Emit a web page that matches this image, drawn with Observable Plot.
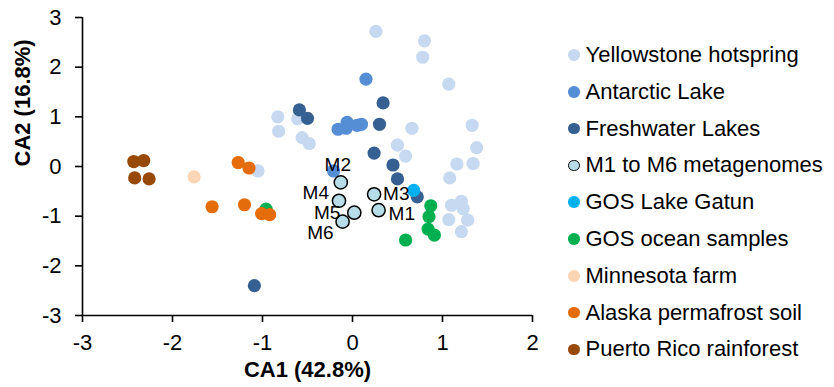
<!DOCTYPE html>
<html>
<head>
<meta charset="utf-8">
<script src="https://cdn.jsdelivr.net/npm/d3@7"></script>
<script src="https://cdn.jsdelivr.net/npm/@observablehq/plot@0.6"></script>
<style>
  html, body { margin: 0; padding: 0; background: #fff; }
  #chart { position: relative; width: 834px; height: 387px; font-family: "Liberation Sans", Arial, sans-serif; }
  #legend { position: absolute; left: 568px; top: 36.6px; }
  .row { display: flex; align-items: center; height: 36.8px; font-size: 22px; color: #000; white-space: nowrap; }
  .sw { width: 11.5px; height: 11.5px; border-radius: 50%; margin-right: 6px; box-sizing: border-box; }
</style>
</head>
<body>
<div id="chart"><div id="legend"></div></div>
<script>
// CA ordination scores (CA1, CA2) for each sample group
const yellowstone = [
  [0.26, 2.72], [0.80, 2.53], [0.78, 2.20], [1.07, 1.66], [0.66, 0.77],
  [1.33, 0.83], [1.38, 0.38], [0.50, 0.43], [0.59, 0.21], [1.16, 0.05],
  [1.34, 0.06], [1.08, -0.23], [1.10, -0.78], [1.21, -0.70], [1.23, -0.85],
  [1.07, -1.07], [1.28, -1.08], [1.21, -1.31], [-0.83, 1.00], [-0.61, 0.96],
  [-0.82, 0.71], [-0.56, 0.58], [-0.48, 0.46], [-1.05, -0.09]
];
const antarctic = [
  [-0.16, 0.75], [-0.06, 0.89], [-0.07, 0.77], [0.05, 0.83], [0.10, 0.85],
  [0.15, 1.76], [-0.21, -0.09]
];
const freshwater = [
  [-0.59, 1.14], [-0.50, 0.97], [0.34, 1.28], [0.30, 0.85], [0.24, 0.27],
  [0.45, 0.03], [0.50, -0.25], [0.72, -0.61], [-1.09, -2.40]
];
const metagenomes = [
  [0.29, -0.88], [-0.13, -0.32], [0.24, -0.56], [-0.15, -0.69], [0.02, -0.93], [-0.11, -1.11]
];
const metagenomeLabels = ["M1", "M2", "M3", "M4", "M5", "M6"];
const gosLakeGatun = [[0.68, -0.48]];
const gosOcean = [
  [0.87, -0.79], [0.85, -1.01], [0.84, -1.26], [0.91, -1.38], [0.59, -1.48], [-0.96, -0.86]
];
const minnesotaFarm = [[-1.76, -0.21]];
const alaskaPermafrost = [
  [-1.27, 0.08], [-1.15, -0.03], [-1.56, -0.81], [-1.20, -0.77], [-1.01, -0.95], [-0.92, -0.97]
];
const puertoRico = [
  [-2.43, 0.10], [-2.32, 0.12], [-2.42, -0.23], [-2.26, -0.25]
];

const seriesNames = [
  "Yellowstone hotspring", "Antarctic Lake", "Freshwater Lakes", "M1 to M6 metagenomes",
  "GOS Lake Gatun", "GOS ocean samples", "Minnesota farm", "Alaska permafrost soil",
  "Puerto Rico rainforest"
];
const seriesData = [
  yellowstone, antarctic, freshwater, metagenomes, gosLakeGatun,
  gosOcean, minnesotaFarm, alaskaPermafrost, puertoRico
];
const seriesColors = [
  "#C6D9F1", "#558ED5", "#376092", "#B7DEE8", "#00B0F0",
  "#00B050", "#FCD5B5", "#E46C0A", "#984807"
];
const xTicks = [-3, -2, -1, 0, 1, 2];
const yTicks = [-3, -2, -1, 0, 1, 2, 3];

// label placement around each metagenome point
const labelPlacement = {
  M1: {textAnchor: "start", dx: 10, dy: 4},
  M2: {textAnchor: "middle", dx: -3, dy: -17},
  M3: {textAnchor: "start", dx: 9, dy: 0},
  M4: {textAnchor: "end", dx: -10, dy: -8},
  M5: {textAnchor: "end", dx: -14, dy: 0},
  M6: {textAnchor: "end", dx: -9, dy: 11}
};

const outlined = "M1 to M6 metagenomes";
const font = "'Liberation Sans', Arial, sans-serif";

const dotMarks = seriesNames.map((name, i) =>
  Plot.dot(seriesData[i].map(([x, y]) => ({x, y})), {
    x: "x", y: "y", r: 6.6,
    fill: seriesColors[i],
    stroke: name === outlined ? "#000" : "none",
    strokeWidth: name === outlined ? 1.5 : 0
  })
);

const labelMarks = metagenomeLabels.map((label, i) =>
  Plot.text([{x: metagenomes[i][0], y: metagenomes[i][1], label}], {
    x: "x", y: "y", text: "label",
    fontSize: 19, fill: "#000",
    ...labelPlacement[label]
  })
);

// dots drawn in legend order; the M2 label sits over the lake points
const marks = [
  Plot.ruleX([-3], {stroke: "#000", strokeWidth: 1.6}),
  Plot.ruleY([-3], {stroke: "#000", strokeWidth: 1.6}),
  Plot.axisX({ticks: xTicks, tickFormat: d => String(d), tickSize: 7, tickPadding: 12,
    fontSize: 22, stroke: "#000", strokeWidth: 1.6, label: null}),
  Plot.axisY({ticks: yTicks, tickFormat: d => String(d), tickSize: 7, tickPadding: 14,
    fontSize: 22, stroke: "#000", strokeWidth: 1.6, label: null}),
  ...dotMarks.slice(0, 4),
  labelMarks[1],
  ...dotMarks.slice(4),
  ...labelMarks.filter((_, i) => i !== 1),
  Plot.text(["CA1 (42.8%)"], {text: d => d, frameAnchor: "bottom", dy: 61.5,
    fontSize: 22, fontWeight: "bold", fill: "#000"}),
  Plot.text(["CA2 (16.8%)"], {text: d => d, frameAnchor: "left", dx: -60, rotate: -90,
    fontSize: 22, fontWeight: "bold", fill: "#000"})
];

const chart = Plot.plot({
  width: 834,
  height: 387,
  marginLeft: 82,
  marginRight: 302,
  marginTop: 17,
  marginBottom: 72,
  x: {domain: [-3, 2]},
  y: {domain: [-3, 3]},
  style: {fontFamily: font, color: "#000", background: "#fff"},
  marks
});

const root = document.getElementById("chart");
root.insertBefore(chart, root.firstChild);

// legend
const legend = document.getElementById("legend");
seriesNames.forEach((name, i) => {
  const row = document.createElement("div");
  row.className = "row";
  const sw = document.createElement("span");
  sw.className = "sw";
  sw.style.background = seriesColors[i];
  if (name === outlined) sw.style.border = "1.5px solid #000";
  const label = document.createElement("span");
  label.textContent = name;
  row.appendChild(sw);
  row.appendChild(label);
  legend.appendChild(row);
});
</script>
</body>
</html>
